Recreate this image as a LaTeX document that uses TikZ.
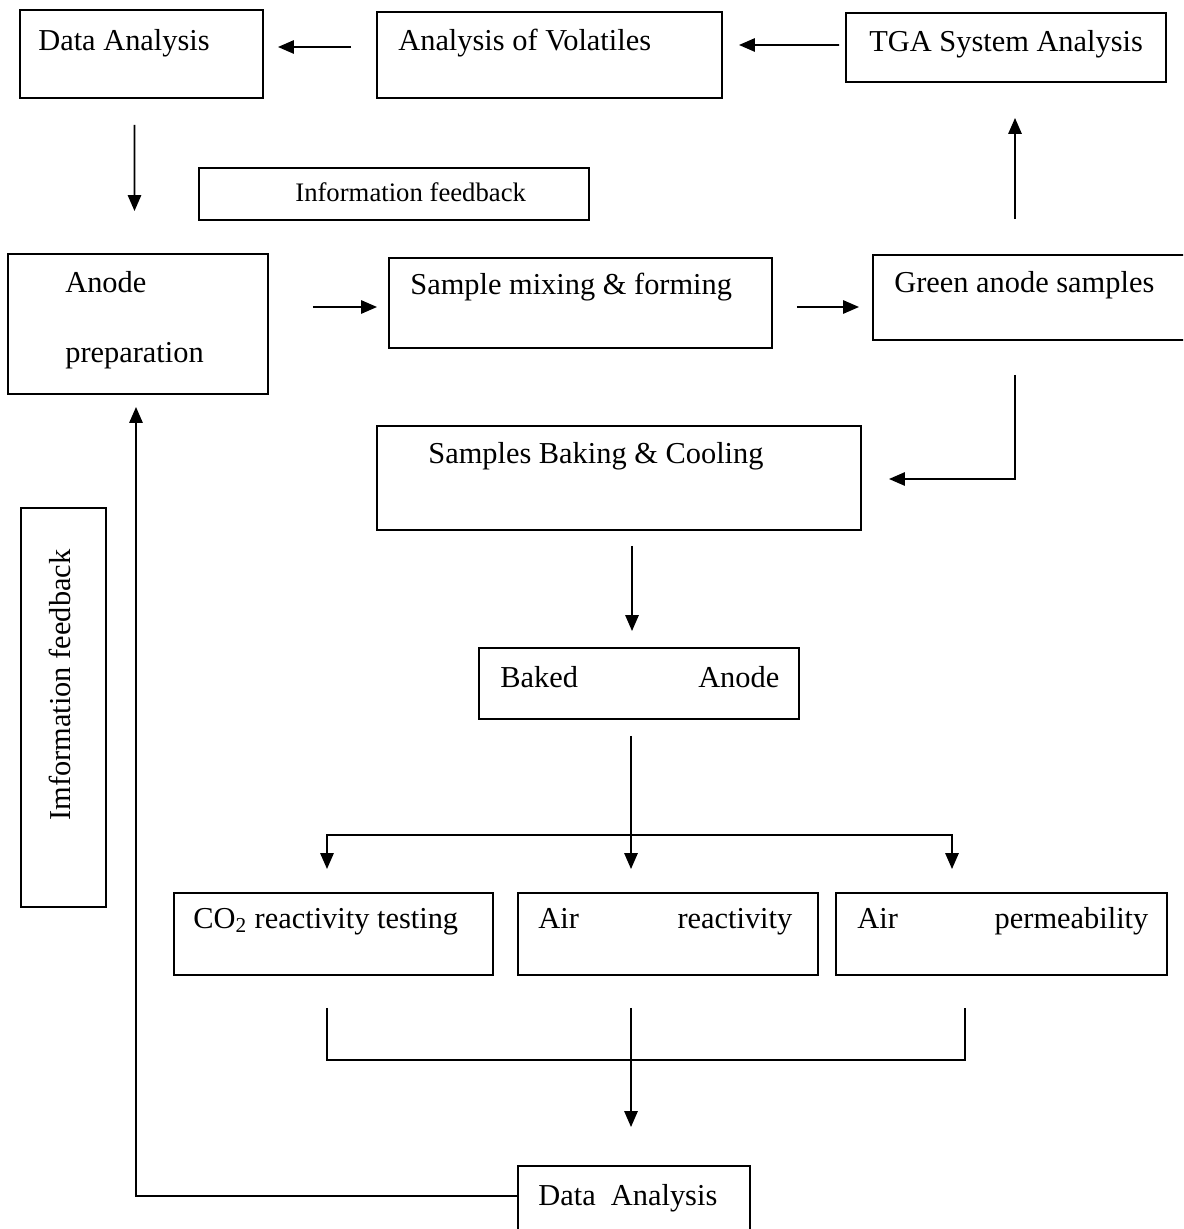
\documentclass[tikz,border=0pt]{standalone}
\usepackage{fontspec}
\setmainfont{Liberation Serif}
\usetikzlibrary{arrows.meta, calc, fit}

\tikzset{
  box/.style={draw, line width=1.1pt, inner sep=0pt},
  txt/.style={inner sep=0pt, anchor=base west, font=\fontsize{17.3}{20}\selectfont},
  smalltxt/.style={inner sep=0pt, anchor=base west, font=\fontsize{15.2}{18}\selectfont},
  link/.style={line width=1.1pt},
  arr/.style={line width=1.1pt, -{Triangle[length=9pt, width=7.5pt]}},
  twoarr/.style={line width=1.1pt, {Triangle[length=9pt, width=7.5pt]}-{Triangle[length=9pt, width=7.5pt]}}
}

\begin{document}
\begin{tikzpicture}[x=0.02cm, y=-0.02cm]
\clip (0,0) rectangle (1183,1229);
\fill[white] (0,0) rectangle (1183,1229);

% top row
\node[box, fit={(20,10) (263,98)}] (dataA) {};
\node[txt] (dataAt) at (38,51) {Data Analysis};
\node[box, fit={(377,12) (722,98)}] (volat) {};
\node[txt] (volatt) at (398,51) {Analysis of Volatiles};
\node[box, fit={(846,13) (1166,82)}] (tga) {};
\node[txt] (tgat) at (869,52) {TGA System Analysis};
\node[box, fit={(199,168) (589,220)}] (infoA) {};
\node[smalltxt] (infoAt) at (295,202) {Information feedback};

% preparation row
\node[box, fit={(8,254) (268,394)}] (anode) {};
\node[txt] (anodet) at (65,293) {Anode};
\node[txt] (anodeb) at (65,362) {preparation};
\node[box, fit={(389,258) (772,348)}] (mixing) {};
\node[txt] (mixingt) at (410,295) {Sample mixing \& forming};
\node[box, fit={(873,255) (1195,340)}] (green) {};
\node[txt] (greent) at (894,293) {Green anode samples};

% baking
\node[box, fit={(377,426) (861,530)}] (baking) {};
\node[txt] (bakingt) at (428,463) {Samples Baking \& Cooling};
\node[box, fit={(479,648) (799,719)}] (baked) {};
\node[txt] (bakedt) at (500,687) {\makebox[5.58cm][s]{Baked\hfill Anode}};

% feedback on the left
\node[box, fit={(21,508) (106,907)}] (infoB) {};
\node[inner sep=0pt, rotate=90, font=\fontsize{17.3}{20}\selectfont] (infoBt) at (60,685) {Imformation feedback};

% tests
\node[box, fit={(174,893) (493,975)}] (co2) {};
\node[txt] (co2t) at (193,928) {CO\textsubscript{2} reactivity testing};
\node[box, fit={(518,893) (818,975)}] (airR) {};
\node[txt] (airRt) at (538,928) {\makebox[5.08cm][s]{Air\hfill reactivity}};
\node[box, fit={(836,893) (1167,975)}] (airP) {};
\node[txt] (airPt) at (857,928) {\makebox[5.82cm][s]{Air\hfill permeability}};

\node[box, fit={(518,1166) (750,1232)}] (dataB) {};
\node[txt] (dataBt) at (538,1205) {Data~~Analysis};

% connectors
\draw[arr] ($(volat.west)+(-25,-8)$) -- ($(dataA.east)+(14,-7)$);
\draw[arr] ($(tga.west)+(-6,-2.5)$) -- ($(volat.east)+(16,-10)$);
\draw[arr] ($(dataA.south)+(-7,26)$) -- ($(anode.north)+(-3.5,-42)$);
\draw[arr] ($(green.north)+(-19,-35)$) -- ($(tga.south)+(9,35)$);
\draw[arr] ($(anode.east)+(44,-17)$) -- ($(mixing.west)+(-11,4)$);
\draw[arr] ($(mixing.east)+(24,4)$) -- ($(green.west)+(-13,9.5)$);
\draw[arr] ($(green.south)+(-19,34)$) |- ($(baking.east)+(27,1)$);
\draw[arr] ($(baking.south)+(13,15)$) -- ($(baked.north)+(-7,-16)$);

\draw[arr] ($(baked.south)+(-8,16)$) -- ($(airR.north)+(-37,-23)$);
\draw[twoarr] ($(co2.north)+(-6.5,-23)$) |- ($(airP.north)+(-49.5,-57)$) -- ($(airP.north)+(-49.5,-23)$);

\draw[link] ($(co2.south)+(-6.5,32)$) |- ($(airP.south)+(-36.5,84)$) -- ($(airP.south)+(-36.5,32)$);
\draw[arr] ($(airR.south)+(-37,32)$) -- ($(dataB.north)+(-3,-38)$);

\draw[arr] ($(dataB.west)+(0,-3)$) -| ($(anode.south)+(-2,12)$);
\end{tikzpicture}
\end{document}
